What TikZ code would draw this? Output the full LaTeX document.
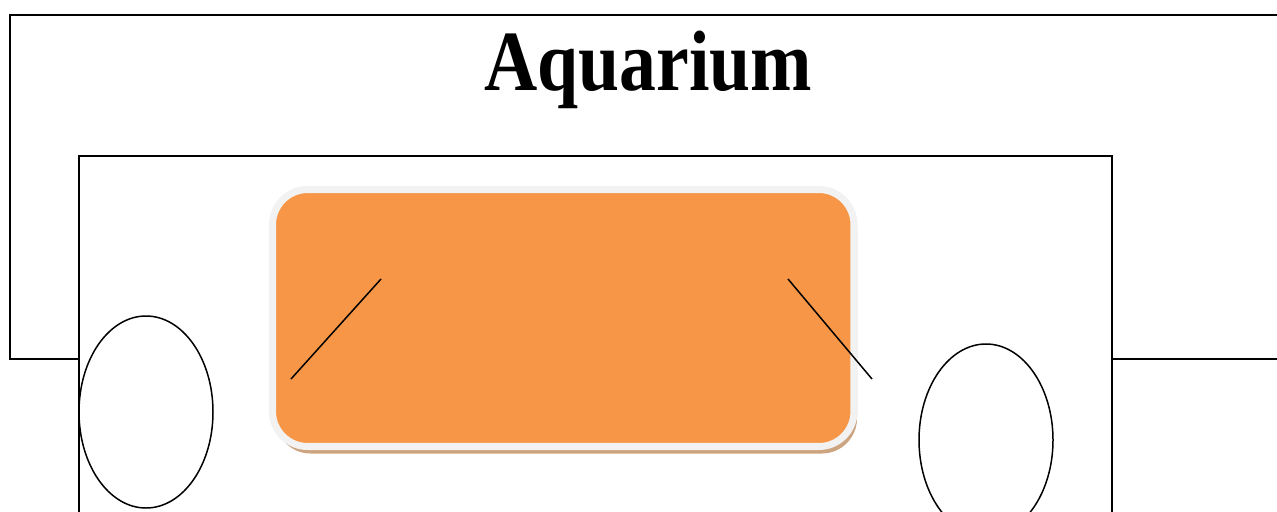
\documentclass[tikz,border=0pt]{standalone}
\usepackage{fontspec}
\setmainfont{Liberation Serif}
\usepackage{tikz}
\usepackage{xcolor}
\usetikzlibrary{positioning}
\definecolor{tankorange}{RGB}{247,150,70}
\definecolor{tankrim}{RGB}{242,242,242}
\definecolor{tankshadow}{RGB}{205,164,128}
\tikzset{
  frame/.style={draw=black, line width=1.1pt},
  wall/.style={draw=black, fill=white, line width=0.9pt},
  tank/.style={fill=tankorange, draw=tankrim, line width=4pt,
               rounded corners=20pt},
  tankshade/.style={fill=tankshadow, rounded corners=20pt},
  stone/.style={draw=black, line width=0.85pt, fill=white},
  rod/.style={draw=black, line width=0.85pt},
  heading/.style={font=\fontsize{48.8}{50}\selectfont\bfseries, anchor=base,
                  inner sep=0pt},
}

\begin{document}
\begin{tikzpicture}[x=0.02cm, y=-0.02cm]
  \useasboundingbox (0,0) rectangle (1277,511);
  \clip (0,0) rectangle (1277,511);
  \draw[frame] (10,15) rectangle (1320,359);  % outer panel
  \draw[wall] (79,156) rectangle (1112,560);  % inner panel

  \fill[tankshade] (275.5,193.5) rectangle (857,453.5);
  \draw[tank] (272.5,189.5) rectangle (854,446.5);

  \draw[rod] (291,379) -- (381,279);
  \draw[rod] (788,279) -- (872,379);

  \draw[stone] (146,412) ellipse [x radius=67, y radius=96];
  \draw[stone] (986,440) ellipse [x radius=67, y radius=96];

  \node[heading] (title) at (648.5,90) {\scalebox{0.86}[1]{Aquarium}};
\end{tikzpicture}
\end{document}
